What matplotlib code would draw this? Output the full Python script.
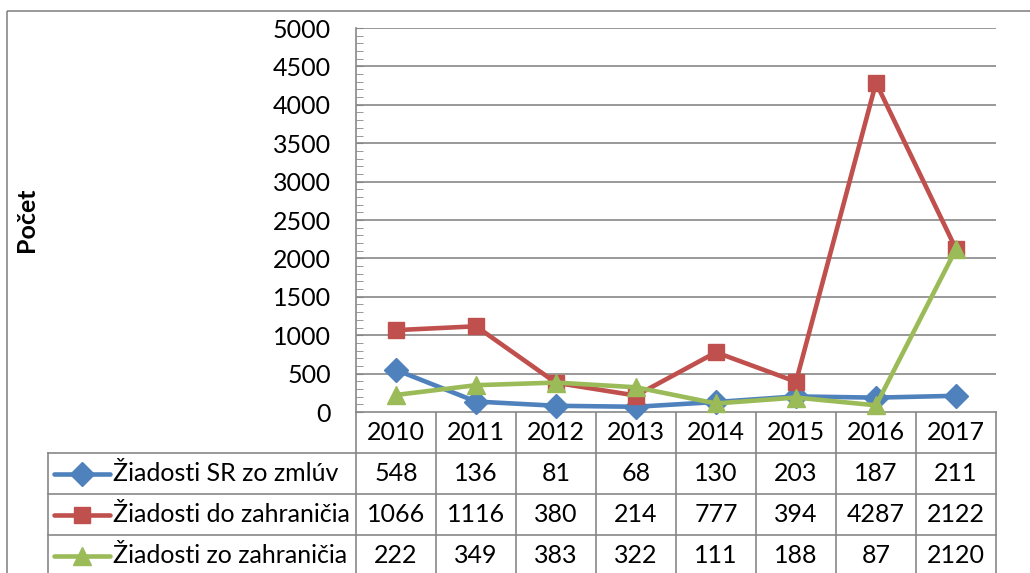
import matplotlib.pyplot as plt
from matplotlib.lines import Line2D
from matplotlib.patches import Rectangle

plt.rcParams['font.family'] = ['Lato', 'DejaVu Sans']

years = ['2010', '2011', '2012', '2013', '2014', '2015', '2016', '2017']
series_names = ['Žiadosti SR zo zmlúv', 'Žiadosti do zahraničia', 'Žiadosti zo zahraničia']
sr_zmluv = [548, 136, 81, 68, 130, 203, 187, 211]
do_zahranicia = [1066, 1116, 380, 214, 777, 394, 4287, 2122]
zo_zahranicia = [222, 349, 383, 322, 111, 188, 87, 2120]

colors = ['#4F81BD', '#C0504D', '#9BBB59']
markers = ['D', 's', '^']
sizes = [12, 12, 13]
values = [sr_zmluv, do_zahranicia, zo_zahranicia]

W, H = 1030, 573
grid_col = '#878787'
fs = 18

fig = plt.figure(figsize=(W / 100, H / 100), dpi=100)

# pixel geometry of the plot area / table
x0, x1 = 356, 996
ytop, ybot = 28, 412
row_h = 41

ax = fig.add_axes([x0 / W, 1 - ybot / H, (x1 - x0) / W, (ybot - ytop) / H])
for name, v, c, m, s in zip(series_names, values, colors, markers, sizes):
    ax.plot(range(len(years)), v, color=c, lw=3.3, marker=m, ms=s,
            label=name, solid_joinstyle='round', clip_on=False, zorder=3)

ax.set_xlim(-0.5, len(years) - 0.5)
ax.set_ylim(0, 5000)
ax.set_yticks(range(0, 5001, 500))
ax.set_yticks(range(0, 5001, 100), minor=True)
ax.set_xticks([])
ax.tick_params(axis='y', which='major', direction='in', length=5, color=grid_col,
               labelsize=fs, pad=18)
ax.tick_params(axis='y', which='minor', direction='in', length=5, color=grid_col)
ax.grid(axis='y', color=grid_col, lw=1.2)
ax.set_axisbelow(True)
for side in ['top', 'right', 'bottom']:
    ax.spines[side].set_visible(False)
ax.spines['left'].set_color(grid_col)
ax.spines['left'].set_linewidth(1.2)
ax.set_ylabel('Počet', fontsize=fs, fontweight='bold', labelpad=0)
ax.yaxis.set_label_coords((38 - x0) / (x1 - x0), 0.5)

# overlay in pixel coordinates for the data table and outer frame
ov = fig.add_axes([0, 0, 1, 1], zorder=-1)
ov.set_xlim(0, W)
ov.set_ylim(H, 0)
ov.axis('off')
ov.add_patch(Rectangle((7, 11), W + 20, H + 20, fill=False, ec=grid_col, lw=1.2))

col_w = (x1 - x0) / len(years)
tab_left = 48
lw_t = 1.2
ybottom = ybot + row_h * 4
# horizontal lines
ov.plot([x0, x1], [ybot, ybot], color=grid_col, lw=lw_t)
for r in range(1, 4):
    ov.plot([tab_left, x1], [ybot + row_h * r, ybot + row_h * r], color=grid_col, lw=lw_t)
# vertical lines
ov.plot([tab_left, tab_left], [ybot + row_h, ybottom], color=grid_col, lw=lw_t)
for k in range(len(years) + 1):
    ov.plot([x0 + k * col_w] * 2, [ybot, ybottom], color=grid_col, lw=lw_t)

for k, yr in enumerate(years):
    ov.text(x0 + (k + 0.5) * col_w, ybot + row_h / 2, yr, ha='center', va='center', fontsize=fs)

for r, (name, v, c, m, s) in enumerate(zip(series_names, values, colors, markers, sizes)):
    yc = ybot + row_h * (r + 1.5)
    ov.add_line(Line2D([54, 82, 110], [yc, yc, yc], color=c, lw=3.3, marker=m, ms=s,
                       markevery=[1], solid_capstyle='round'))
    ov.text(113, yc, name, ha='left', va='center', fontsize=fs)
    for k, val in enumerate(v):
        ov.text(x0 + (k + 0.5) * col_w, yc, str(val), ha='center', va='center', fontsize=fs)

fig.savefig('out.png', dpi=100)
